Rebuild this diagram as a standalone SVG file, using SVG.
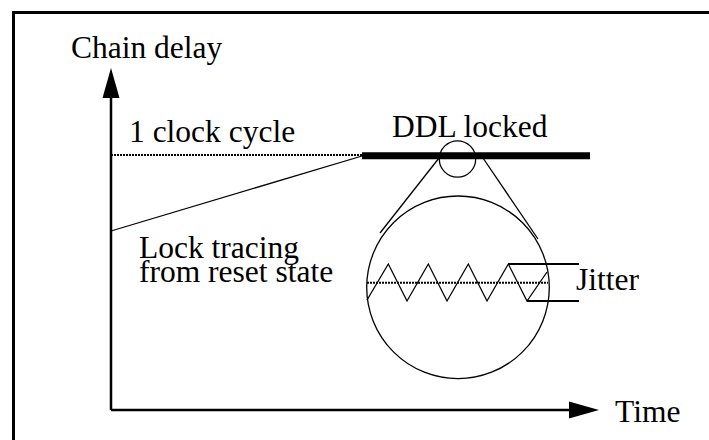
<svg xmlns="http://www.w3.org/2000/svg" width="709" height="440" viewBox="0 0 709 440">
<style>
.t{font-family:'Liberation Serif','Times New Roman','DejaVu Serif',serif;font-size:31.5px;fill:#000}
.thin{stroke:#000;stroke-width:1.3;fill:none}
.axis{stroke:#000;stroke-width:2.5;fill:none}
.dot{stroke:#000;stroke-width:2;stroke-dasharray:2,1;fill:none}
.brk{stroke:#000;stroke-width:2;fill:none}
</style>
<rect x="0" y="0" width="709" height="440" fill="#fff"/>
<g id="frame"><rect x="13.5" y="12.5" width="720" height="460" fill="none" stroke="#000" stroke-width="3"/></g>
<g id="axes">
<line class="axis" x1="111" y1="410" x2="111" y2="96"/>
<polygon points="111,68 102.5,98 119.5,98" fill="#000"/>
<line class="axis" x1="111" y1="410" x2="571" y2="410"/>
<polygon points="599,410 569,401.5 569,418.5" fill="#000"/>
<text class="t" font-family="Liberation Serif, serif" x="71" y="58">Chain delay</text>
<text class="t" font-family="Liberation Serif, serif" x="615" y="422">Time</text>
</g>
<g id="clock-cycle">
<line class="dot" x1="111" y1="155" x2="362" y2="155"/>
<text class="t" font-family="Liberation Serif, serif" x="129" y="142">1 clock cycle</text>
</g>
<g id="lock-trace">
<line class="thin" x1="111" y1="231" x2="362" y2="156"/>
<text class="t" font-family="Liberation Serif, serif" x="139" y="258">Lock tracing</text>
<text class="t" font-family="Liberation Serif, serif" x="139" y="281.5">from reset state</text>
</g>
<g id="ddl-locked">
<line x1="362" y1="155.8" x2="590" y2="155.8" stroke="#000" stroke-width="7"/>
<text class="t" font-family="Liberation Serif, serif" x="392" y="136.5">DDL locked</text>
<circle class="thin" cx="457.5" cy="159" r="18.2"/>
</g>
<g id="connectors">
<line class="thin" x1="439" y1="158" x2="380" y2="233"/>
<line class="thin" x1="483" y1="158" x2="538" y2="239"/>
</g>
<g id="zoom-circle">
<circle class="thin" cx="458" cy="287.3" r="91.3"/>
<line class="dot" x1="367" y1="282.7" x2="548" y2="282.7" stroke-width="1.6"/>
<polyline class="thin" points="367,300 388.3,264 407,301 428.3,264 447,301 468.3,264 487,301 508.3,264 527,301 547,272"/>
</g>
<g id="jitter">
<line class="brk" x1="508" y1="264" x2="579" y2="264"/>
<line class="brk" x1="527" y1="301" x2="579" y2="301"/>
<text class="t" font-family="Liberation Serif, serif" x="576" y="290">Jitter</text>
</g>
</svg>
